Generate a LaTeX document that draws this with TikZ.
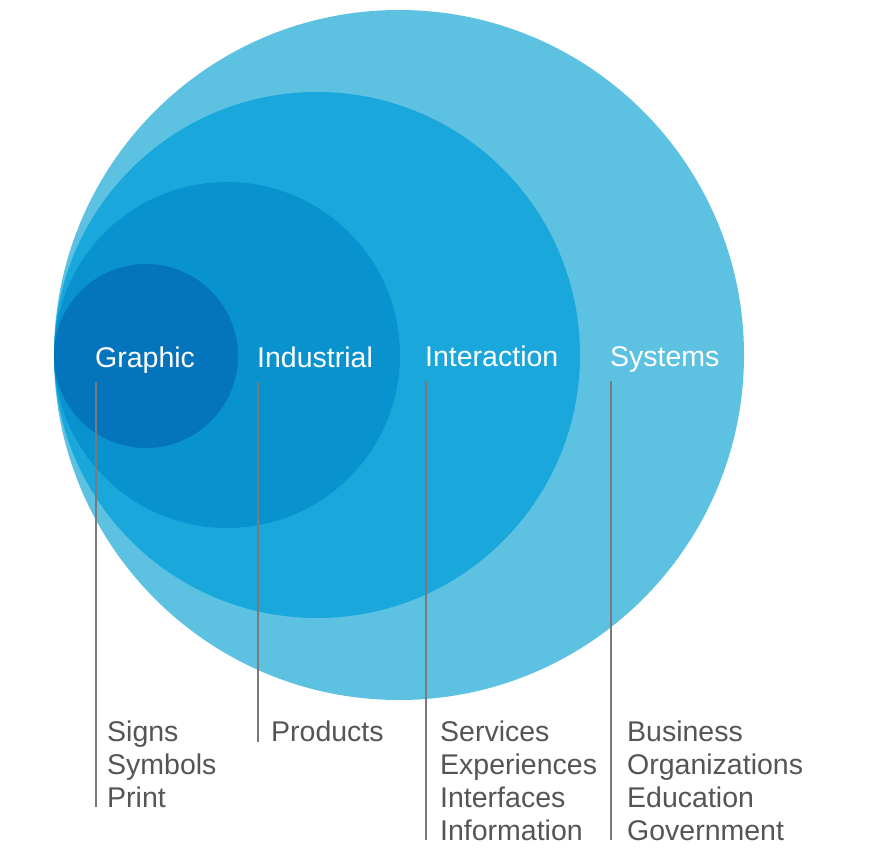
\documentclass[tikz,border=0pt]{standalone}
\usepackage{fontspec}
\setmainfont{Liberation Sans}
\usepackage{xcolor}
\usetikzlibrary{positioning}
\definecolor{systemsblue}{HTML}{5DC2E2}
\definecolor{interactblue}{HTML}{1AA8DC}
\definecolor{industblue}{HTML}{0892CE}
\definecolor{graphicblue}{HTML}{0475BC}
\definecolor{listgray}{HTML}{555555}
\definecolor{leadgray}{HTML}{7A7A7A}

\begin{document}
\begin{tikzpicture}[
  x=1pt, y=-1pt,
  every node/.style={inner sep=0pt, font=\fontsize{28.5}{33}\selectfont},
  field/.style={anchor=base west, text=white},
  items/.style={anchor=base west, align=left, text=listgray},
  lead/.style={draw=leadgray, line width=1.3pt}
]
\useasboundingbox (0,0) rectangle (870,850);
\fill[white] (0,0) rectangle (870,850);

% Nested discipline circles
\fill[systemsblue]  (399,355) circle[radius=345pt];
\fill[interactblue] (317,355) circle[radius=263pt];
\fill[industblue]   (227,355) circle[radius=173pt];
\fill[graphicblue]  (146,356) circle[radius=92pt];

% Field labels
\node[field] (graphic) at (95,367) {Graphic};
\node[field] (industrial) at (257,367) {Industrial};
\node[field] (interaction) at (425,366) {Interaction};
\node[field] (systems) at (610,366) {Systems};

% Lists of outputs (placed by the baseline of their last line)
\node[items] (graphicList) at (107,807) {Signs\\Symbols\\Print};
\node[items] (industrialList) at (271,741) {Products};
\node[items] (interactionList) at (440,840) {Services\\Experiences\\Interfaces\\Information};
\node[items] (systemsList) at (627,840) {Business\\Organizations\\Education\\Government};

% Leader line ends
\coordinate (gTop) at (96,382);   \coordinate (gBot) at (96,807);
\coordinate (dTop) at (258,382);  \coordinate (dBot) at (258,742);
\coordinate (iTop) at (426,381);  \coordinate (iBot) at (426,840);
\coordinate (sTop) at (611,381);  \coordinate (sBot) at (611,840);

% Leader lines
\draw[lead] (gTop) -- (gBot);
\draw[lead] (dTop) -- (dBot);
\draw[lead] (iTop) -- (iBot);
\draw[lead] (sTop) -- (sBot);

\end{tikzpicture}
\end{document}
